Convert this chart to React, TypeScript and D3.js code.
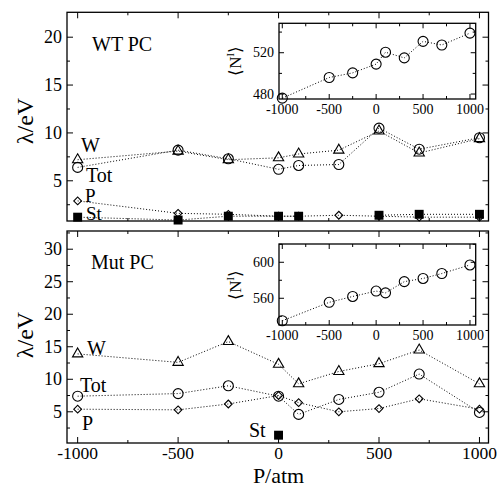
import React from 'react';
import * as d3 from 'd3';

// pressures (atm) shared by every series
const pressures = [-1000, -500, -250, 0, 100, 300, 500, 700, 1000];

// WT PC reorganisation energies (eV)
const wtW = [7.2, 8.1, 7.2, 7.4, 7.8, 8.2, 10.2, 7.9, 9.4];
const wtTot = [6.4, 8.2, 7.3, 6.2, 6.6, 6.7, 10.5, 8.3, 9.5];
const wtP = [2.9, 1.6, 1.5, 1.3, 1.3, 1.4, 1.3, 1.2, 1.2];
const wtSt = [1.2, 0.9, 1.3, 1.3, 1.3, null, 1.4, 1.5, 1.5];
const wtN = [476, 496, 500.5, 509, 520.5, 515, 531, 527.5, 539];

// Mut PC
const mutW = [13.9, 12.6, 15.8, 12.3, 9.3, 11.2, 12.4, 14.5, 9.3];
const mutTot = [7.4, 7.8, 9.0, 7.4, 4.6, 6.9, 8.0, 10.8, 4.9];
const mutP = [5.4, 5.3, 6.2, 7.5, 6.4, 5.0, 5.5, 7.0, 5.4];
const mutSt = [null, null, null, 1.4, null, null, null, null, null];
const mutN = [535, 555.5, 562, 568, 566, 578.5, 582, 587.5, 597];

const xTickLabels = [-1000, -500, 0, 500, 1000];
const xMinor = [-1000, -750, -500, -250, 0, 250, 500, 750, 1000];
const wtYTicks = [5, 10, 15, 20];
const mutYTicks = [5, 10, 15, 20, 25, 30];
const wtNTicks = [480, 520];
const mutNTicks = [560, 600];

const FONT = 'Liberation Serif';
const W = 498;
const H = 487;
const L = 67;
const R = 488.5;

type Val = number | null;

function T({ children, size, ...rest }: any) {
  return <text {...rest} fontFamily={FONT} fontSize={size}>{children}</text>;
}

function Marker({ kind, x, y }: { kind: string; x: number; y: number }) {
  if (kind === 'circle') return <circle cx={x} cy={y} r={5} fill="none" stroke="#000" strokeWidth={1.1} />;
  if (kind === 'tri') {
    const p = d3.symbol().type(d3.symbolTriangle).size(46)();
    return <path d={p || ''} transform={`translate(${x},${y})`} fill="none" stroke="#000" strokeWidth={1.1} />;
  }
  if (kind === 'diamond') {
    const p = d3.symbol().type(d3.symbolSquare).size(30)();
    return <path d={p || ''} transform={`translate(${x},${y}) rotate(45)`} fill="none" stroke="#000" strokeWidth={1.1} />;
  }
  const p = d3.symbol().type(d3.symbolSquare).size(80)();
  return <path d={p || ''} transform={`translate(${x},${y})`} fill="#000" />;
}

function Series({ vals, kind, x, y }: { vals: Val[]; kind: string; x: any; y: any }) {
  const pts = pressures.map((p, i) => [p, vals[i]] as [number, Val]);
  const line = d3.line<[number, Val]>()
    .defined(d => d[1] !== null)
    .x(d => x(d[0]))
    .y(d => y(d[1] as number));
  const used = pts.filter(d => d[1] !== null);
  return (
    <g>
      {used.length > 1 && (
        <path d={line(pts) || ''} fill="none" stroke="#000" strokeWidth={1} strokeDasharray="1,2" />
      )}
      {used.map((d, i) => <Marker key={i} kind={kind} x={x(d[0])} y={y(d[1] as number)} />)}
    </g>
  );
}

// frame with inward ticks on all four sides
function Frame({ x, y, xTicks, xMin, yTicks, yMin, major, minor }: any) {
  const [x0, x1] = x.range();
  const [y0, y1] = y.range();
  const els: any[] = [];
  xMin.forEach((t: number, i: number) => {
    const len = xTicks.includes(t) ? major : minor;
    els.push(<line key={'xb' + i} x1={x(t)} x2={x(t)} y1={y0} y2={y0 - len} stroke="#000" />);
    els.push(<line key={'xt' + i} x1={x(t)} x2={x(t)} y1={y1} y2={y1 + len} stroke="#000" />);
  });
  yMin.forEach((t: number, i: number) => {
    const len = yTicks.includes(t) ? major : minor;
    els.push(<line key={'yl' + i} x1={x0} x2={x0 + len} y1={y(t)} y2={y(t)} stroke="#000" />);
    els.push(<line key={'yr' + i} x1={x1} x2={x1 - len} y1={y(t)} y2={y(t)} stroke="#000" />);
  });
  return (
    <g>
      <rect x={x0} y={y1} width={x1 - x0} height={y0 - y1} fill="#fff" stroke="#000" strokeWidth={1.3} />
      {els}
    </g>
  );
}

function InsetPanel({ top, bottom, domain, vals, ticks, minor, labelY }: any) {
  const x = d3.scaleLinear().domain([-1035, 1061]).range([279, 475.7]);
  const y = d3.scaleLinear().domain(domain).range([bottom, top]);
  return (
    <g>
      <Frame x={x} y={y} xTicks={xTickLabels} xMin={xMinor} yTicks={ticks} yMin={minor} major={5} minor={3} />
      <Series vals={vals} kind="circle" x={x} y={y} />
      {xTickLabels.map(t => (
        <T key={t} x={x(t)} y={bottom + 15} textAnchor="middle" size={14}>{t}</T>
      ))}
      {ticks.map((t: number) => (
        <T key={t} x={274} y={y(t) + 4.5} textAnchor="end" size={14}>{t}</T>
      ))}
      <T transform={`translate(241,${labelY}) rotate(-90)`} textAnchor="middle" size={17}>
        ⟨N<tspan fontSize={10} dy={-7}>I</tspan><tspan dy={7}>⟩</tspan>
      </T>
    </g>
  );
}

export default function App() {
  const x = d3.scaleLinear().domain([-1053, 1045]).range([L, R]);
  const yTop = d3.scaleLinear().domain([0.8, 22.6]).range([221, 12.3]);
  const yBot = d3.scaleLinear().domain([0.2, 32.8]).range([443, 231]);
  const topMinor = [2.5, 5, 7.5, 10, 12.5, 15, 17.5, 20];
  const botMinor = [2.5, 5, 7.5, 10, 12.5, 15, 17.5, 20, 22.5, 25, 27.5, 30, 32.5];
  const lbl = 20;

  return (
    <svg width={W} height={H} style={{ position: 'absolute', left: 0, top: 0, background: '#fff' }}>
      {/* WT PC panel */}
      <Frame x={x} y={yTop} xTicks={xTickLabels} xMin={xMinor} yTicks={wtYTicks} yMin={topMinor} major={6} minor={3} />
      {wtYTicks.map(t => (
        <T key={t} x={62} y={yTop(t) + 6} textAnchor="end" size={18}>{t}</T>
      ))}
      <Series vals={wtW} kind="tri" x={x} y={yTop} />
      <Series vals={wtTot} kind="circle" x={x} y={yTop} />
      <Series vals={wtP} kind="diamond" x={x} y={yTop} />
      <Series vals={wtSt} kind="square" x={x} y={yTop} />
      <T x={92} y={51} size={lbl}>WT PC</T>
      <T x={81} y={152} size={lbl}>W</T>
      <T x={86} y={182} size={lbl}>Tot</T>
      <T x={85} y={202} size={19}>P</T>
      <T x={86} y={219.5} size={19}>St</T>
      <T transform="translate(33,121) rotate(-90)" textAnchor="middle" size={24}>λ/eV</T>
      <InsetPanel top={23.3} bottom={99} domain={[475.2, 548.5]} vals={wtN} ticks={wtNTicks}
        minor={[480, 500, 520, 540]} labelY={61} />

      {/* Mut PC panel */}
      <Frame x={x} y={yBot} xTicks={xTickLabels} xMin={xMinor} yTicks={mutYTicks} yMin={botMinor} major={6} minor={3} />
      {mutYTicks.map(t => (
        <T key={t} x={62} y={yBot(t) + 6} textAnchor="end" size={18}>{t}</T>
      ))}
      <Series vals={mutW} kind="tri" x={x} y={yBot} />
      <Series vals={mutTot} kind="circle" x={x} y={yBot} />
      <Series vals={mutP} kind="diamond" x={x} y={yBot} />
      <Series vals={mutSt} kind="square" x={x} y={yBot} />
      <T x={91} y={269} size={lbl}>Mut PC</T>
      <T x={87} y={355} size={lbl}>W</T>
      <T x={80} y={392} size={lbl}>Tot</T>
      <T x={82} y={430} size={lbl}>P</T>
      <T x={249} y={437} size={lbl}>St</T>
      <T transform="translate(33,335) rotate(-90)" textAnchor="middle" size={24}>λ/eV</T>
      <InsetPanel top={244} bottom={325} domain={[530.3, 620.3]} vals={mutN} ticks={mutNTicks}
        minor={[540, 560, 580, 600, 620]} labelY={285} />

      {xTickLabels.map(t => (
        <T key={t} x={x(t)} y={459} textAnchor="middle" size={17.5}>{t}</T>
      ))}
      <T x={x(0)} y={482.5} textAnchor="middle" size={22}>P/atm</T>
    </svg>
  );
}
